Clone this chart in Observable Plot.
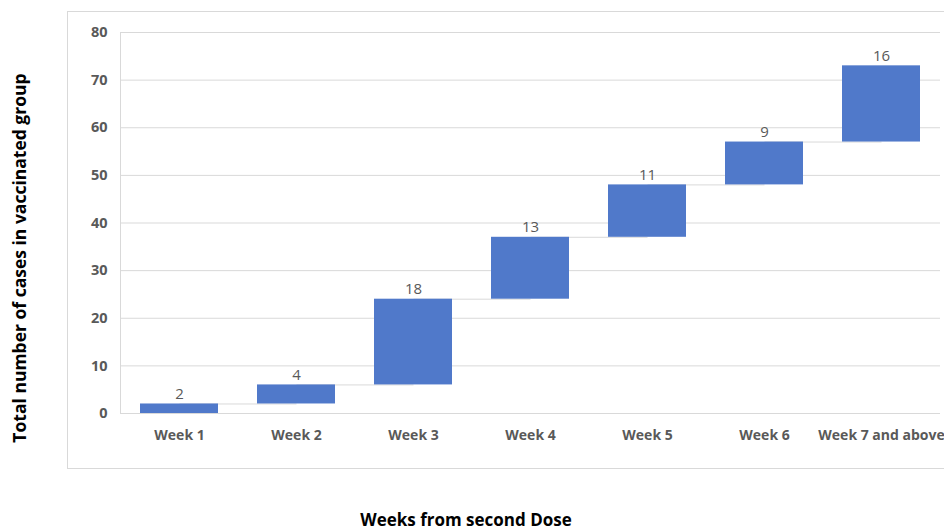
<!DOCTYPE html>
<html>
<head>
<meta charset="utf-8">
<script src="https://cdn.jsdelivr.net/npm/d3@7"></script>
<script src="https://cdn.jsdelivr.net/npm/@observablehq/plot@0.6"></script>
<style>
  html, body { margin: 0; padding: 0; background: #fff; }
  #chart svg { display: block; }
</style>
</head>
<body>
<div id="chart"></div>
<script>
const weeks = ["Week 1", "Week 2", "Week 3", "Week 4", "Week 5", "Week 6", "Week 7 and above"];
const cases = [2, 4, 18, 13, 11, 9, 16];
const yTicks = [0, 10, 20, 30, 40, 50, 60, 70, 80];

let run = 0;
const rows = weeks.map((w, i) => {
  const start = run;
  run += cases[i];
  return { week: w, value: cases[i], start, end: run };
});
const links = rows.slice(0, -1).map((r, i) => ({ from: r.week, to: rows[i + 1].week, level: r.end }));

const FONT = "Open Sans, Liberation Sans, sans-serif";
const grey = "#595959";

const chart = Plot.plot({
  width: 944,
  height: 532,
  marginLeft: 120,
  marginRight: 4,
  marginTop: 32,
  marginBottom: 119,
  style: { fontFamily: FONT, background: "white" },
  x: { domain: weeks, paddingInner: 0.333, paddingOuter: 0.167, label: null },
  y: { domain: [0, 80], ticks: yTicks, label: null },
  marks: [
    Plot.ruleY(yTicks, { stroke: "#d9d9d9", strokeWidth: 1 }),
    Plot.link(links, { x1: "from", x2: "to", y1: "level", y2: "level", stroke: "#d9d9d9", strokeWidth: 1 }),
    Plot.barY(rows, { x: "week", y1: "start", y2: "end", fill: "#5079ca" }),
    Plot.text(rows, { x: "week", y: "end", text: d => String(d.value), dy: -10, fill: grey, fontSize: 15 }),
    Plot.axisY({ ticks: yTicks, tickSize: 0, tickPadding: 13, fontSize: 14.5, fontWeight: "bold", fill: grey, label: null }),
    Plot.axisX({ tickSize: 0, tickPadding: 17, fontSize: 14, fontWeight: "bold", fill: grey, label: null })
  ]
});

const svg = d3.select(chart);
const yS = chart.scale("y");
// chart area border
svg.insert("rect", ":first-child")
  .attr("x", 67.5).attr("y", 11.5).attr("width", 900).attr("height", 457)
  .attr("fill", "none").attr("stroke", "#d9d9d9");
// vertical axis line
svg.append("line")
  .attr("x1", 120.5).attr("x2", 120.5)
  .attr("y1", yS.apply(0)).attr("y2", yS.apply(80))
  .attr("stroke", "#d9d9d9");
// axis titles
svg.append("text")
  .attr("transform", "translate(26,258) rotate(-90)")
  .attr("text-anchor", "middle")
  .attr("font-family", FONT).attr("font-weight", "bold").attr("font-size", 17.5)
  .attr("fill", "black")
  .text("Total number of cases in vaccinated group");
svg.append("text")
  .attr("x", 466).attr("y", 526)
  .attr("text-anchor", "middle")
  .attr("font-family", FONT).attr("font-weight", "bold").attr("font-size", 17)
  .attr("fill", "black")
  .text("Weeks from second Dose");

document.getElementById("chart").appendChild(chart);
</script>
</body>
</html>
